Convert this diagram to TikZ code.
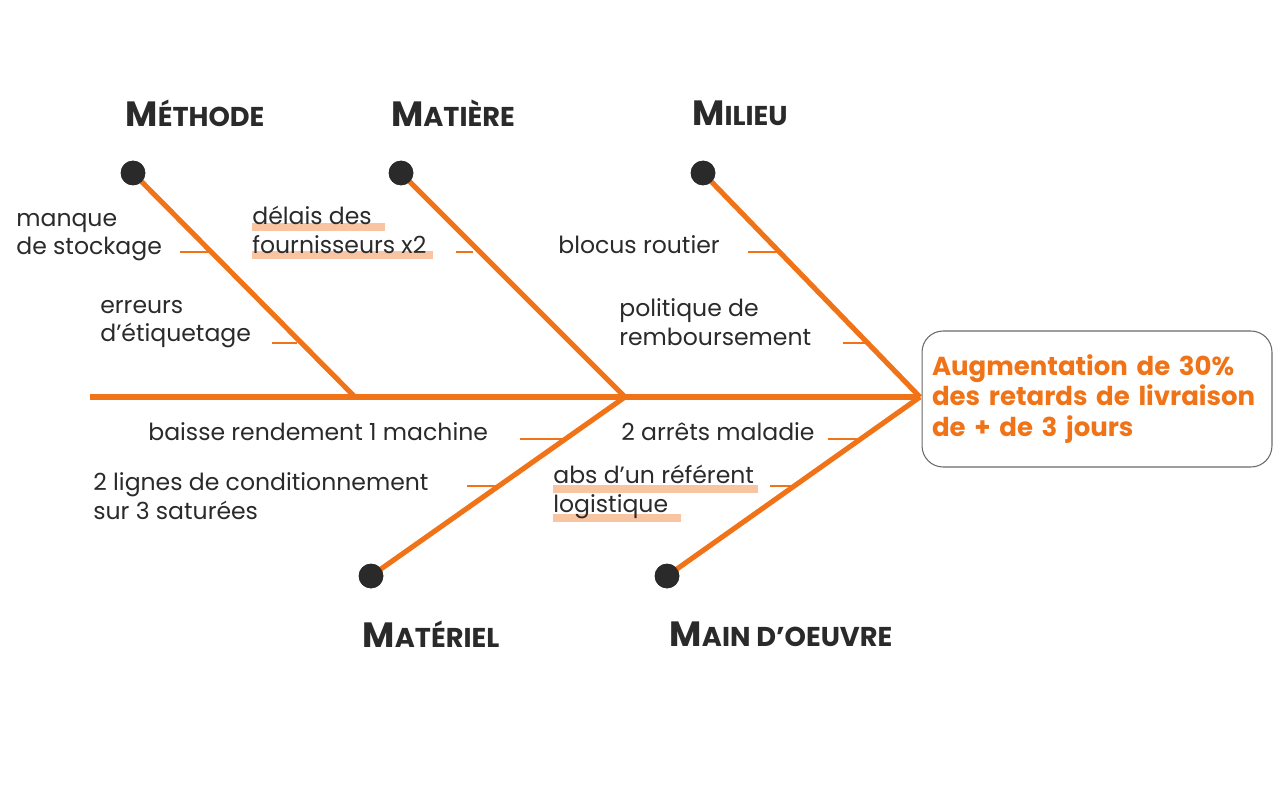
\documentclass[tikz,border=0pt]{standalone}
\usepackage{fontspec}
\setmainfont{Poppins}
\definecolor{org}{HTML}{F07318}
\definecolor{dot}{HTML}{2A2A2A}
\definecolor{txt}{HTML}{2A2A2A}
\definecolor{hl}{HTML}{F6B58A}
\newcommand{\hdr}[2]{{\fontsize{20}{24}\selectfont\bfseries #1}{\fontsize{15.5}{20}\selectfont\bfseries #2}}
\begin{document}
\begin{tikzpicture}[x=0.02cm,y=-0.02cm,
  bone/.style={org,line width=2.9pt},
  tick/.style={org,line width=0.8pt},
  dotn/.style={circle,fill=dot,minimum size=14pt,inner sep=0pt},
  lab/.style={text=txt,font=\fontsize{13.4}{16.2}\selectfont,align=left,inner sep=0pt},
  hd/.style={text=txt,inner sep=0pt},
  hlight/.style={hl,line width=4pt,opacity=0.8}]
\useasboundingbox (0,0) rectangle (1280,800);
% highlights
\draw[hlight] (252,227) -- (385,227);
\draw[hlight] (252,255) -- (433,255);
\draw[hlight] (553,489) -- (758,489);
\draw[hlight] (553,518) -- (681,518);
% spine
\coordinate (s0) at (90,397);
\coordinate (jA) at (355,397);
\coordinate (jB) at (625,397);
\coordinate (jC) at (920,397);
\draw[bone] (s0) -- (jC);
\node[dotn] (d1) at (133,173) {};
\node[dotn] (d2) at (401,173) {};
\node[dotn] (d3) at (703,173) {};
\node[dotn] (d4) at (371,576) {};
\node[dotn] (d5) at (667,576) {};
\draw[bone] (d1.center) -- (jA);
\draw[bone] (d2.center) -- (jB);
\draw[bone] (d3.center) -- (jC);
\draw[bone] (d4.center) -- (jB);
\draw[bone] (d5.center) -- (jC);
\node[dotn] at (133,173) {};
\node[dotn] at (401,173) {};
\node[dotn] at (703,173) {};
\node[dotn] at (371,576) {};
\node[dotn] at (667,576) {};
% headers
\node[hd] (h1) at (195,113) {\hdr{M}{ÉTHODE}};
\node[hd] (h2) at (453,113) {\hdr{M}{ATIÈRE}};
\node[hd] (h3) at (740,113) {\hdr{M}{ILIEU}};
\node[hd] (h4) at (431,634) {\hdr{M}{ATÉRIEL}};
\node[hd] (h5) at (781,634) {\hdr{M}{AIN D’OEUVRE}};
% effect
\node[draw=txt!70,rounded corners=12pt,line width=0.6pt,
  text=org,font=\fontsize{14.8}{17.6}\selectfont\bfseries,align=left,inner sep=0pt,
  minimum width=7cm,minimum height=2.72cm,text width=6.6cm] (eff) at (1097,399)
  {Augmentation de 30\%\\des retards de livraison\\de + de 3 jours};
% labels
\node[lab,anchor=west] (l1) at (16,237) {manque\\de stockage};
\node[lab,anchor=west] (l2) at (100,324) {erreurs\\d’étiquetage};
\node[lab,anchor=west] (l3) at (252,230) {délais des\\fournisseurs x2};
\node[lab,anchor=west] (l4) at (558,245) {blocus routier};
\node[lab,anchor=west] (l5) at (619,322) {politique de\\remboursement};
\node[lab,anchor=west] (l6) at (148,432) {baisse rendement 1 machine};
\node[lab,anchor=west] (l7) at (93,496) {2 lignes de conditionnement\\sur 3 saturées};
\node[lab,anchor=west] (l8) at (621,432) {2 arrêts maladie};
\node[lab,anchor=west] (l9) at (553,492) {abs d’un référent\\logistique};
% ticks
\draw[tick] (180,252) -- (210,252);
\draw[tick] (272,343) -- (297,343);
\draw[tick] (456,252) -- (473,252);
\draw[tick] (748,252) -- (778,252);
\draw[tick] (843,343) -- (868,343);
\draw[tick] (520,439) -- (563,439);
\draw[tick] (467,486) -- (497,486);
\draw[tick] (828,439) -- (857,439);
\draw[tick] (770,486) -- (792,486);
\end{tikzpicture}
\end{document}
